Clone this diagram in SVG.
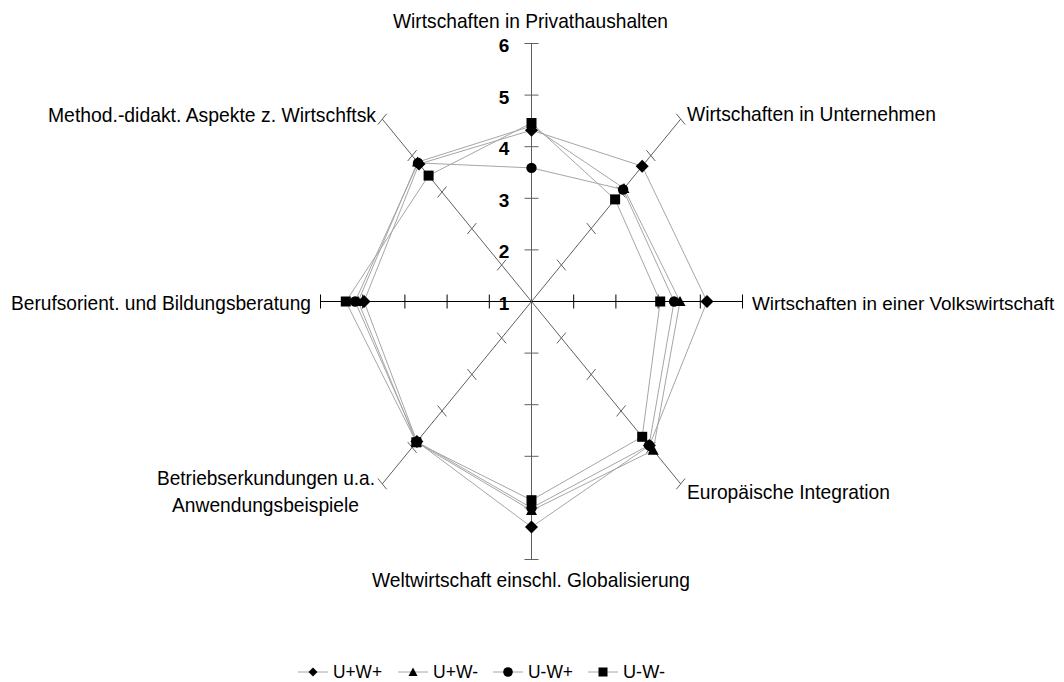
<svg xmlns="http://www.w3.org/2000/svg" xmlns:xlink="http://www.w3.org/1999/xlink" width="1064" height="682" viewBox="0 0 1064 682">
<style>
  .lbl { font-family: "Liberation Sans", Arial, sans-serif; font-size: 21px; fill: #000; }
  .num { font-family: "Liberation Sans", Arial, sans-serif; font-size: 19px; font-weight: bold; fill: #000; text-anchor: middle; }
  .leg { font-family: "Liberation Sans", Arial, sans-serif; font-size: 18px; fill: #000; }
  .ax { stroke: #606060; stroke-width: 1; fill: none; }
  .axh { stroke: #000; stroke-width: 1; fill: none; }
  .ser { stroke: #a6a6a6; stroke-width: 1; fill: none; }
  .mk { fill: #000; }
</style>
<defs>
  <path id="dia" d="M0,-6.5 L6.5,0 L0,6.5 L-6.5,0 Z"/>
  <path id="tri" d="M0,-5.5 L5.5,4.5 L-5.5,4.5 Z"/>
  <circle id="cir" r="5.2"/>
  <rect id="sq" x="-5" y="-5" width="10" height="10"/>
  <path id="diaS" d="M0,-4.5 L4.5,0 L0,4.5 L-4.5,0 Z"/>
  <path id="triS" d="M0,-4.5 L4.5,4 L-4.5,4 Z"/>
  <circle id="cirS" r="4.8"/>
  <rect id="sqS" x="-4.5" y="-4.5" width="9" height="9"/>
</defs>
<rect width="1064" height="682" fill="#fff"/>

<g id="axes">
  <line class="ax" x1="531.5" y1="301.5" x2="531.5" y2="43.5"/>
  <line class="ax" x1="531.5" y1="301.5" x2="531.5" y2="559.5"/>
  <line class="axh" x1="320.5" y1="301.5" x2="742.5" y2="301.5"/>
  <line class="ax" x1="531.5" y1="301.5" x2="680.7" y2="119.1"/>
  <line class="ax" x1="531.5" y1="301.5" x2="680.7" y2="483.9"/>
  <line class="ax" x1="531.5" y1="301.5" x2="382.3" y2="483.9"/>
  <line class="ax" x1="531.5" y1="301.5" x2="382.3" y2="119.1"/>
  <g id="ticks-v" class="ax">
    <line x1="524.5" y1="43.5" x2="538.5" y2="43.5"/>
    <line x1="524.5" y1="95.1" x2="538.5" y2="95.1"/>
    <line x1="524.5" y1="146.7" x2="538.5" y2="146.7"/>
    <line x1="524.5" y1="198.3" x2="538.5" y2="198.3"/>
    <line x1="524.5" y1="249.9" x2="538.5" y2="249.9"/>
    <line x1="524.5" y1="353.1" x2="538.5" y2="353.1"/>
    <line x1="524.5" y1="404.7" x2="538.5" y2="404.7"/>
    <line x1="524.5" y1="456.3" x2="538.5" y2="456.3"/>
    <line x1="524.5" y1="507.9" x2="538.5" y2="507.9"/>
    <line x1="524.5" y1="559.5" x2="538.5" y2="559.5"/>
  </g>
  <g id="ticks-h" class="axh">
    <line x1="573.7" y1="294.5" x2="573.7" y2="308.5"/>
    <line x1="615.9" y1="294.5" x2="615.9" y2="308.5"/>
    <line x1="658.1" y1="294.5" x2="658.1" y2="308.5"/>
    <line x1="700.3" y1="294.5" x2="700.3" y2="308.5"/>
    <line x1="742.5" y1="294.5" x2="742.5" y2="308.5"/>
    <line x1="489.3" y1="294.5" x2="489.3" y2="308.5"/>
    <line x1="447.1" y1="294.5" x2="447.1" y2="308.5"/>
    <line x1="404.9" y1="294.5" x2="404.9" y2="308.5"/>
    <line x1="362.7" y1="294.5" x2="362.7" y2="308.5"/>
    <line x1="320.5" y1="294.5" x2="320.5" y2="308.5"/>
  </g>
  <g id="ticks-d" class="ax">
    <line x1="556.9" y1="259.6" x2="565.8" y2="270.4"/>
    <line x1="586.8" y1="223.1" x2="595.6" y2="234.0"/>
    <line x1="616.6" y1="186.6" x2="625.5" y2="197.5"/>
    <line x1="646.4" y1="150.2" x2="655.3" y2="161.0"/>
    <line x1="676.3" y1="113.7" x2="685.1" y2="124.5"/>
    <line x1="497.2" y1="332.6" x2="506.1" y2="343.4"/>
    <line x1="467.4" y1="369.0" x2="476.3" y2="379.9"/>
    <line x1="437.6" y1="405.5" x2="446.4" y2="416.4"/>
    <line x1="407.7" y1="442.0" x2="416.6" y2="452.8"/>
    <line x1="377.9" y1="478.5" x2="386.7" y2="489.3"/>
    <line x1="556.9" y1="343.4" x2="565.8" y2="332.6"/>
    <line x1="586.8" y1="379.9" x2="595.6" y2="369.0"/>
    <line x1="616.6" y1="416.4" x2="625.5" y2="405.5"/>
    <line x1="646.4" y1="452.8" x2="655.3" y2="442.0"/>
    <line x1="676.3" y1="489.3" x2="685.1" y2="478.5"/>
    <line x1="497.2" y1="270.4" x2="506.1" y2="259.6"/>
    <line x1="467.4" y1="234.0" x2="476.3" y2="223.1"/>
    <line x1="437.6" y1="197.5" x2="446.4" y2="186.6"/>
    <line x1="407.7" y1="161.0" x2="416.6" y2="150.2"/>
    <line x1="377.9" y1="124.5" x2="386.7" y2="113.7"/>
  </g>
  <g id="scale-labels">
    <text class="num" x="504" y="52">6</text>
    <text class="num" x="504" y="103.5">5</text>
    <text class="num" x="504" y="155">4</text>
    <text class="num" x="504" y="206.5">3</text>
    <text class="num" x="504" y="258">2</text>
    <text class="num" x="504" y="309.5">1</text>
  </g>
</g>

<g id="axis-labels">
  <text id="lbl-privat" class="lbl" x="393" y="28" textLength="275" lengthAdjust="spacingAndGlyphs">Wirtschaften in Privathaushalten</text>
  <text id="lbl-unternehmen" class="lbl" x="687" y="121" textLength="249" lengthAdjust="spacingAndGlyphs">Wirtschaften in Unternehmen</text>
  <text id="lbl-volkswirtschaft" class="lbl" x="752" y="310" style="font-size:18.9px">Wirtschaften in einer Volkswirtschaft</text>
  <text id="lbl-europa" class="lbl" x="687" y="499" textLength="203" lengthAdjust="spacingAndGlyphs">Europäische Integration</text>
  <text id="lbl-welt" class="lbl" x="372" y="587" textLength="318" lengthAdjust="spacingAndGlyphs">Weltwirtschaft einschl. Globalisierung</text>
  <text id="lbl-betrieb1" class="lbl" x="157" y="485" textLength="218" lengthAdjust="spacingAndGlyphs">Betriebserkundungen u.a.</text>
  <text id="lbl-betrieb2" class="lbl" x="172" y="512" textLength="187" lengthAdjust="spacingAndGlyphs">Anwendungsbeispiele</text>
  <text id="lbl-beruf" class="lbl" x="11" y="310" textLength="300" lengthAdjust="spacingAndGlyphs">Berufsorient. und Bildungsberatung</text>
  <text id="lbl-method" class="lbl" x="48" y="122" textLength="328" lengthAdjust="spacingAndGlyphs">Method.-didakt. Aspekte z. Wirtschftsk</text>
</g>

<g id="connectors">
  <polygon id="line-UpWp" class="ser" points="531.5,130.2 642.2,166.2 707,301.5 649.4,445.6 531.5,527 416.9,441.6 364,301.5 419,164"/>
  <polygon id="line-UpWm" class="ser" points="531.5,126.1 624,188.4 680,301.5 653.2,450.3 531.5,510.5 416.3,442.3 358.1,301.5 417.5,162.1"/>
  <polygon id="line-UmWp" class="ser" points="531.5,167.9 623.1,189.5 674.1,301.5 649.1,445.2 531.5,507.9 416.9,441.6 355.1,301.5 418.1,162.9"/>
  <polygon id="line-UmWm" class="ser" points="531.5,123 615.1,199.4 660.2,301.5 642.2,436.8 531.5,500.2 416.3,442.3 345.8,301.5 428.6,175.6"/>
</g>

<g id="series-UpWp" class="mk">
  <use xlink:href="#dia" href="#dia" x="531.5" y="130.2"/>
  <use xlink:href="#dia" href="#dia" x="642.2" y="166.2"/>
  <use xlink:href="#dia" href="#dia" x="707" y="301.5"/>
  <use xlink:href="#dia" href="#dia" x="649.4" y="445.6"/>
  <use xlink:href="#dia" href="#dia" x="531.5" y="527"/>
  <use xlink:href="#dia" href="#dia" x="416.9" y="441.6"/>
  <use xlink:href="#dia" href="#dia" x="364" y="301.5"/>
  <use xlink:href="#dia" href="#dia" x="419" y="164"/>
</g>
<g id="series-UpWm" class="mk">
  <use xlink:href="#tri" href="#tri" x="531.5" y="126.1"/>
  <use xlink:href="#tri" href="#tri" x="624" y="188.4"/>
  <use xlink:href="#tri" href="#tri" x="680" y="301.5"/>
  <use xlink:href="#tri" href="#tri" x="653.2" y="450.3"/>
  <use xlink:href="#tri" href="#tri" x="531.5" y="510.5"/>
  <use xlink:href="#tri" href="#tri" x="416.3" y="442.3"/>
  <use xlink:href="#tri" href="#tri" x="358.1" y="301.5"/>
  <use xlink:href="#tri" href="#tri" x="417.5" y="162.1"/>
</g>
<g id="series-UmWp" class="mk">
  <use xlink:href="#cir" href="#cir" x="531.5" y="167.9"/>
  <use xlink:href="#cir" href="#cir" x="623.1" y="189.5"/>
  <use xlink:href="#cir" href="#cir" x="674.1" y="301.5"/>
  <use xlink:href="#cir" href="#cir" x="649.1" y="445.2"/>
  <use xlink:href="#cir" href="#cir" x="531.5" y="507.9"/>
  <use xlink:href="#cir" href="#cir" x="416.9" y="441.6"/>
  <use xlink:href="#cir" href="#cir" x="355.1" y="301.5"/>
  <use xlink:href="#cir" href="#cir" x="418.1" y="162.9"/>
</g>
<g id="series-UmWm" class="mk">
  <use xlink:href="#sq" href="#sq" x="531.5" y="123"/>
  <use xlink:href="#sq" href="#sq" x="615.1" y="199.4"/>
  <use xlink:href="#sq" href="#sq" x="660.2" y="301.5"/>
  <use xlink:href="#sq" href="#sq" x="642.2" y="436.8"/>
  <use xlink:href="#sq" href="#sq" x="531.5" y="500.2"/>
  <use xlink:href="#sq" href="#sq" x="416.3" y="442.3"/>
  <use xlink:href="#sq" href="#sq" x="345.8" y="301.5"/>
  <use xlink:href="#sq" href="#sq" x="428.6" y="175.6"/>
</g>

<g id="legend">
  <line class="ser" x1="298" y1="672" x2="328" y2="672"/>
  <use class="mk" xlink:href="#diaS" href="#diaS" x="313" y="672"/>
  <text class="leg" x="333" y="678" textLength="49" lengthAdjust="spacingAndGlyphs">U+W+</text>
  <line class="ser" x1="398" y1="672" x2="428" y2="672"/>
  <use class="mk" xlink:href="#triS" href="#triS" x="413" y="672"/>
  <text class="leg" x="433" y="678" textLength="45" lengthAdjust="spacingAndGlyphs">U+W-</text>
  <line class="ser" x1="493" y1="672" x2="523" y2="672"/>
  <use class="mk" xlink:href="#cirS" href="#cirS" x="508" y="672"/>
  <text class="leg" x="528" y="678" textLength="45" lengthAdjust="spacingAndGlyphs">U-W+</text>
  <line class="ser" x1="588" y1="672" x2="618" y2="672"/>
  <use class="mk" xlink:href="#sqS" href="#sqS" x="603" y="672"/>
  <text class="leg" x="623" y="678" textLength="42" lengthAdjust="spacingAndGlyphs">U-W-</text>
</g>
</svg>
